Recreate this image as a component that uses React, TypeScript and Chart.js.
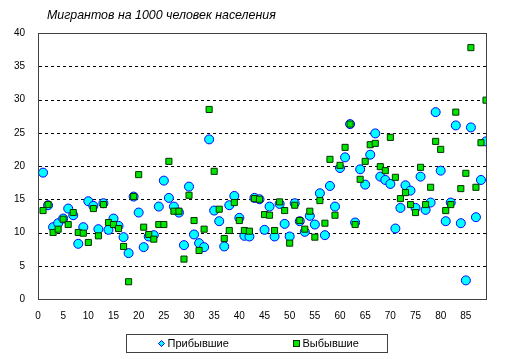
import React, { useEffect, useRef } from "react";
import { Chart, registerables } from "chart.js";

Chart.register(...registerables);

const TITLE = "Мигрантов на 1000 человек населения";
const SERIES_NAMES = ["Прибывшие", "Выбывшие"];

const X_VALUES = [
  1, 2, 3, 4, 5, 6, 7, 8, 9, 10, 11, 12, 13, 14, 15, 16, 17, 18, 19, 20,
  21, 22, 23, 24, 25, 26, 27, 28, 29, 30, 31, 32, 33, 34, 35, 36, 37, 38, 39, 40,
  41, 42, 43, 44, 45, 46, 47, 48, 49, 50, 51, 52, 53, 54, 55, 56, 57, 58, 59, 60,
  61, 62, 63, 64, 65, 66, 67, 68, 69, 70, 71, 72, 73, 74, 75, 76, 77, 78, 79, 80,
  81, 82, 83, 84, 85, 86, 87, 88, 89,
];

const ARRIVED = [
  19.0, 14.1, 10.8, 11.4, 12.1, 13.6, 12.6, 8.3, 10.8, 14.7,
  14.0, 10.5, 14.4, 10.4, 12.1, 11.0, 9.3, 6.9, 15.4, 13.0,
  7.8, 9.4, 9.6, 13.9, 17.8, 15.2, 13.9, 13.0, 8.1, 16.9,
  9.7, 8.4, 7.8, 24.0, 13.3, 11.7, 7.9, 14.1, 15.5, 12.2,
  9.5, 9.4, 15.2, 15.0, 10.4, 13.9, 9.4, 14.3, 11.3, 9.4,
  14.4, 11.7, 10.1, 12.5, 11.2, 15.9, 9.6, 17.0, 13.9, 19.7,
  21.3, 26.3, 11.5, 19.5, 17.2, 21.7, 24.9, 18.4, 17.9, 17.3,
  10.6, 13.7, 17.1, 16.3, 13.7, 18.4, 13.4, 14.5, 28.1, 19.3,
  11.7, 14.5, 26.1, 11.4, 2.8, 25.8, 12.3, 17.9, 23.7,
];

const DEPARTED = [
  13.3, 14.2, 10.0, 10.5, 12.0, 11.2, 13.0, 10.0, 9.9, 8.5,
  13.6, 9.5, 14.2, 11.5, 11.2, 10.6, 7.9, 2.6, 15.4, 18.7,
  10.8, 9.7, 9.0, 11.2, 11.2, 20.7, 13.2, 13.2, 6.0, 15.6,
  11.8, 7.3, 10.5, 28.5, 19.2, 13.5, 9.1, 10.3, 14.5, 11.8,
  10.3, 10.2, 15.1, 15.0, 12.7, 12.6, 10.3, 14.6, 13.3, 8.4,
  14.1, 11.8, 10.5, 13.2, 9.3, 14.8, 11.4, 21.0, 12.6, 20.1,
  22.8, 26.3, 11.2, 18.0, 20.7, 23.2, 23.4, 19.9, 19.3, 24.3,
  18.3, 15.1, 16.0, 14.2, 13.0, 19.8, 14.2, 16.8, 23.7, 22.5,
  13.3, 14.2, 28.1, 16.6, 18.9, 37.8, 16.8, 23.5, 29.9,
];

const FONT = "'Liberation Sans', Arial, sans-serif";
const CYAN = "#00FFFF";
const BLUE = "#0000FF";
const GREEN = "#00E600";
const GREEN_BORDER = "#003300";
const FRAME = "#404040";

const gridPlugin = {
  id: "dashedGrid",
  beforeDatasetsDraw(chart: any) {
    const { ctx, chartArea } = chart;
    const y = chart.scales.y;
    ctx.save();
    ctx.strokeStyle = "#000";
    ctx.lineWidth = 1;
    ctx.setLineDash([3, 3]);
    y.ticks.forEach((t: any) => {
      if (t.value <= y.min || t.value >= y.max) return;
      const py = Math.round(y.getPixelForValue(t.value)) + 0.5;
      ctx.beginPath();
      ctx.moveTo(chartArea.left + 1, py);
      ctx.lineTo(chartArea.right, py);
      ctx.stroke();
    });
    ctx.restore();
  },
};

const framePlugin = {
  id: "frame",
  afterDraw(chart: any) {
    const { ctx, chartArea } = chart;
    ctx.save();
    ctx.strokeStyle = FRAME;
    ctx.lineWidth = 1;
    ctx.strokeRect(
      Math.round(chartArea.left) + 0.5,
      Math.round(chartArea.top) + 0.5,
      Math.round(chartArea.right - chartArea.left),
      Math.round(chartArea.bottom - chartArea.top)
    );
    ctx.restore();
  },
};

const titlePlugin = {
  id: "customTitle",
  afterDraw(chart: any) {
    const { ctx, chartArea } = chart;
    ctx.save();
    ctx.fillStyle = "#000";
    ctx.font = `italic 12.4px ${FONT}`;
    ctx.textBaseline = "alphabetic";
    ctx.textAlign = "left";
    ctx.fillText(TITLE, chartArea.left + 9, 19);
    ctx.restore();
  },
};

const legendPlugin = {
  id: "customLegend",
  afterDraw(chart: any) {
    const { ctx } = chart;
    const bx = 126.5, by = 334.5, bw = 261, bh = 18;
    ctx.save();
    ctx.fillStyle = "#fff";
    ctx.fillRect(bx, by, bw, bh);
    ctx.strokeStyle = FRAME;
    ctx.lineWidth = 1;
    ctx.strokeRect(bx, by, bw, bh);
    const cy = by + bh / 2;
    const dx = bx + 35;
    ctx.beginPath();
    ctx.moveTo(dx, cy - 3);
    ctx.lineTo(dx + 3, cy);
    ctx.lineTo(dx, cy + 3);
    ctx.lineTo(dx - 3, cy);
    ctx.closePath();
    ctx.fillStyle = CYAN;
    ctx.fill();
    ctx.strokeStyle = BLUE;
    ctx.stroke();
    const sx = bx + 170;
    ctx.fillStyle = GREEN;
    ctx.fillRect(sx - 3, cy - 3, 6, 6);
    ctx.strokeStyle = GREEN_BORDER;
    ctx.strokeRect(sx - 3, cy - 3, 6, 6);
    ctx.fillStyle = "#000";
    ctx.font = `11px ${FONT}`;
    ctx.textBaseline = "middle";
    ctx.textAlign = "left";
    ctx.fillText(SERIES_NAMES[0], dx + 6, cy + 0.5);
    ctx.fillText(SERIES_NAMES[1], sx + 6, cy + 0.5);
    ctx.restore();
  },
};

export default function App() {
  const canvasRef = useRef<HTMLCanvasElement | null>(null);

  useEffect(() => {
    document.body.style.margin = "0";
    const canvas = canvasRef.current;
    if (!canvas) return;
    const arrivedPts = X_VALUES.map((x, i) => ({ x, y: ARRIVED[i] }));
    const departedPts = X_VALUES.map((x, i) => ({ x, y: DEPARTED[i] }));
    const chart = new Chart(canvas, {
      type: "scatter",
      data: {
        datasets: [
          {
            label: SERIES_NAMES[0],
            data: arrivedPts,
            pointStyle: "circle",
            pointRadius: 4.5,
            pointBackgroundColor: CYAN,
            pointBorderColor: BLUE,
            pointBorderWidth: 1,
            order: 2,
          },
          {
            label: SERIES_NAMES[1],
            data: departedPts,
            pointStyle: "rect",
            pointRadius: 4.3,
            pointBackgroundColor: GREEN,
            pointBorderColor: GREEN_BORDER,
            pointBorderWidth: 1,
            order: 1,
          },
        ],
      },
      options: {
        animation: false,
        responsive: true,
        maintainAspectRatio: false,
        layout: { padding: { left: 0, right: 27, top: 33, bottom: 0 } },
        plugins: {
          legend: { display: false },
          title: { display: false },
          tooltip: { enabled: false },
        },
        scales: {
          x: {
            type: "linear",
            min: 0,
            max: 89,
            afterFit(scale: any) {
              scale.height = 60;
            },
            ticks: {
              stepSize: 5,
              color: "#000",
              font: { family: FONT, size: 10 },
              padding: 11,
              maxRotation: 0,
              autoSkip: false,
              callback: (v: any) => (Number(v) % 5 === 0 ? String(v) : ""),
            },
            grid: { display: false, drawTicks: false },
            border: { display: false },
          },
          y: {
            type: "linear",
            min: 0,
            max: 40,
            afterFit(scale: any) {
              scale.width = 38;
            },
            ticks: {
              stepSize: 5,
              color: "#000",
              font: { family: FONT, size: 10 },
              padding: 13,
            },
            grid: { display: false, drawTicks: false },
            border: { display: false },
          },
        },
      },
      plugins: [gridPlugin, framePlugin, titlePlugin, legendPlugin],
    });
    return () => chart.destroy();
  }, []);

  return (
    <div style={{ position: "absolute", left: 0, top: 0, width: 513, height: 359, background: "#fff" }}>
      <canvas ref={canvasRef} />
    </div>
  );
}
